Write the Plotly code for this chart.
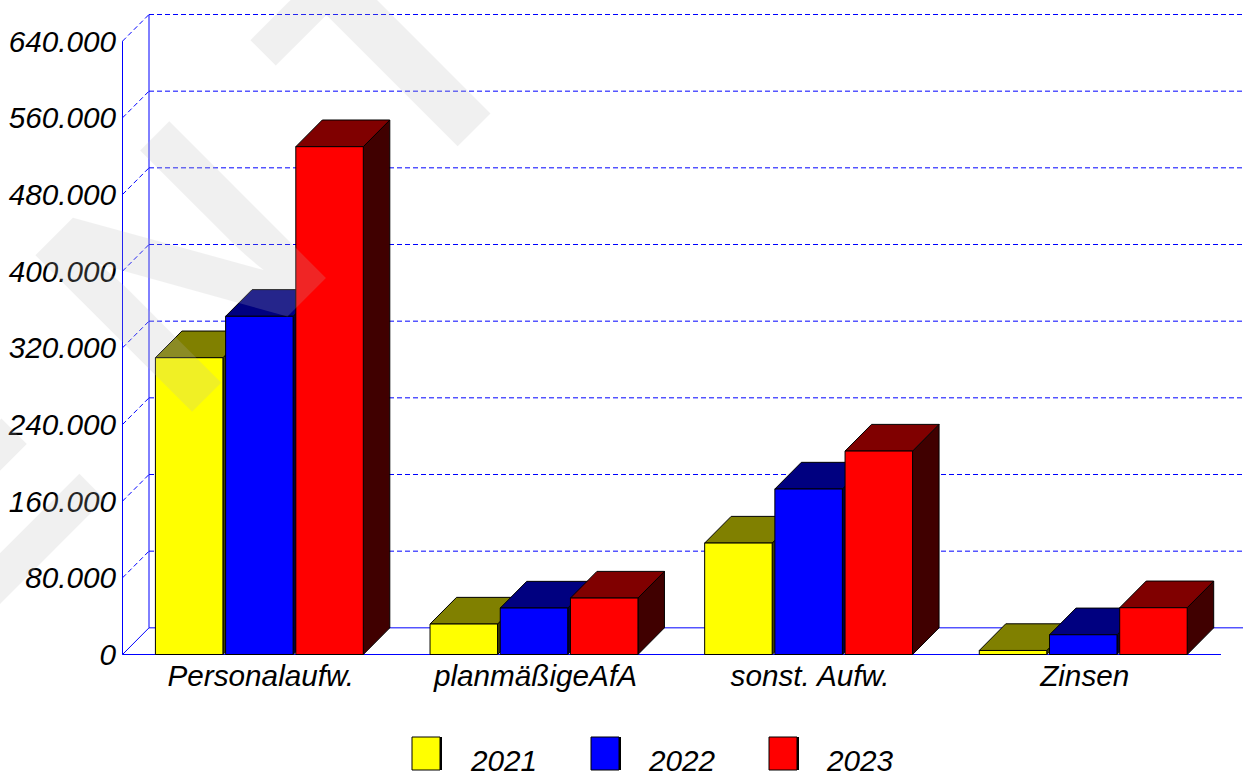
import plotly.graph_objects as go

categories = ["Personalaufw.", "planmäßigeAfA", "sonst. Aufw.", "Zinsen"]
series_names = ["2021", "2022", "2023"]
values_2021 = [309700, 31800, 116300, 4200]
values_2022 = [352900, 48500, 172700, 20600]
values_2023 = [529900, 58900, 212300, 48800]
y_ticks = [0, 80000, 160000, 240000, 320000, 400000, 480000, 560000, 640000]
y_labels = ["0", "80.000", "160.000", "240.000", "320.000", "400.000", "480.000", "560.000", "640.000"]
front_colors = ["#ffff00", "#0000ff", "#ff0000"]
top_colors = ["#808000", "#000080", "#800000"]
side_colors = ["#404000", "#000040", "#400000"]

W, H = 1243, 771
L, B = 122, 655           # plot area in page pixels (extends to the top and right page edges)
AXIS_LEFT, AXIS_RIGHT = 122.5, 1221
ZERO_PX = 654.5
x_unit = (AXIS_RIGHT - AXIS_LEFT) / 4
y_unit = 613.33 / 640000
x_first = AXIS_LEFT + x_unit / 2
DX = 26.5 / x_unit
DY = 26.67 / y_unit
BAR_W = 67.5 / x_unit
BAR_STEP = 70.2 / x_unit
BAR_START = -104.4 / x_unit
LABEL_SHIFT = 1 / x_unit
FONT = "Liberation Sans"
FS = 29.7
BLUE = "#0000ff"
x_min = (L - x_first) / x_unit
x_max = (W - x_first) / x_unit
y_min = (ZERO_PX - B) / y_unit
y_max = ZERO_PX / y_unit

fig = go.Figure()


def line_trace(xs, ys, dash):
    return go.Scatter(x=xs, y=ys, mode="lines", line=dict(color=BLUE, width=1, dash=dash),
                      hoverinfo="skip", showlegend=False)


x_left, x_right = -0.5, 3.5
gx, gy, dgx, dgy = [], [], [], []
for v in y_ticks[1:]:
    gx += [x_left + DX, x_max, None]
    gy += [v + DY, v + DY, None]
    dgx += [x_left, x_left + DX, None]
    dgy += [v, v + DY, None]
fig.add_trace(line_trace(gx + dgx, gy + dgy, "5px,3px"))
fig.add_trace(line_trace([x_left + DX, x_left + DX], [DY, 640000 + DY], "solid"))
fig.add_trace(line_trace([x_left, x_left + DX, x_max], [0, DY, DY], "solid"))
fig.add_trace(line_trace([x_left, x_left, None, x_left, x_right], [640000, 0, None, 0, 0], "solid"))


def poly_trace(xs, ys, color):
    return go.Scatter(x=xs, y=ys, mode="lines", fill="toself", fillcolor=color,
                      line=dict(color="#000000", width=1), hoverinfo="skip",
                      showlegend=False)


all_values = [values_2021, values_2022, values_2023]
for s, vals in enumerate(all_values):
    fx, fy, tx, ty, sx, sy = [], [], [], [], [], []
    for c, v in enumerate(vals):
        x0 = c + BAR_START + s * BAR_STEP
        x1 = x0 + BAR_W
        fx += [x0, x1, x1, x0, x0, None]
        fy += [0, 0, v, v, 0, None]
        tx += [x0, x1, x1 + DX, x0 + DX, x0, None]
        ty += [v, v, v + DY, v + DY, v, None]
        sx += [x1, x1 + DX, x1 + DX, x1, x1, None]
        sy += [0, DY, v + DY, v, 0, None]
    fig.add_trace(poly_trace(sx, sy, side_colors[s]))
    fig.add_trace(poly_trace(tx, ty, top_colors[s]))
    fig.add_trace(poly_trace(fx, fy, front_colors[s]))

tick_font = dict(family=FONT, size=FS, style="italic", color="#000000")
fig.update_layout(
    width=W, height=H, autosize=False,
    margin=dict(l=L, r=0, t=0, b=H - B, pad=0),
    paper_bgcolor="white", plot_bgcolor="white", showlegend=False,
    font=dict(family=FONT, size=FS, color="#000000"),
    xaxis=dict(range=[x_min, x_max], tickmode="array",
               tickvals=[i + LABEL_SHIFT for i in range(4)], ticktext=categories,
               showgrid=False, zeroline=False, showline=False, ticks="", ticklabelstandoff=0,
               tickfont=tick_font),
    yaxis=dict(range=[y_min, y_max], tickmode="array", tickvals=y_ticks, ticktext=y_labels,
               showgrid=False, zeroline=False, showline=False, ticks="", ticklabelstandoff=5,
               tickfont=tick_font),
)

# paper coordinate helpers for legend and watermark placement
px = lambda p: (p - L) / (W - L)
py = lambda p: (B - p) / B

legend_x = [412, 591, 769]
shapes = []
annotations = []
for name, color, lx in zip(series_names, front_colors, legend_x):
    shapes.append(dict(type="rect", xref="paper", yref="paper",
                       x0=px(lx + 27), x1=px(lx + 30), y0=py(770), y1=py(737),
                       fillcolor="#000000", line=dict(width=0), layer="above"))
    shapes.append(dict(type="rect", xref="paper", yref="paper",
                       x0=px(lx), x1=px(lx + 28), y0=py(770), y1=py(737),
                       fillcolor=color, line=dict(color="#000000", width=1), layer="above"))
    annotations.append(dict(text=name, xref="paper", yref="paper",
                            x=px(lx + 91), y=py(760),
                            xanchor="center", yanchor="middle", showarrow=False,
                            font=tick_font))

annotations.append(dict(text="E N T", xref="paper", yref="paper",
                        x=px(173.5), y=py(272),
                        xanchor="center", yanchor="middle", showarrow=False, textangle=-45,
                        opacity=0.2,
                        font=dict(family=FONT, size=322, weight="bold", color="#b9b9b9")))
fig.update_layout(shapes=shapes, annotations=annotations)

fig.write_html("out.html", config={"displayModeBar": False},
               post_script="document.body.style.margin='0';document.body.style.overflow='hidden';")
